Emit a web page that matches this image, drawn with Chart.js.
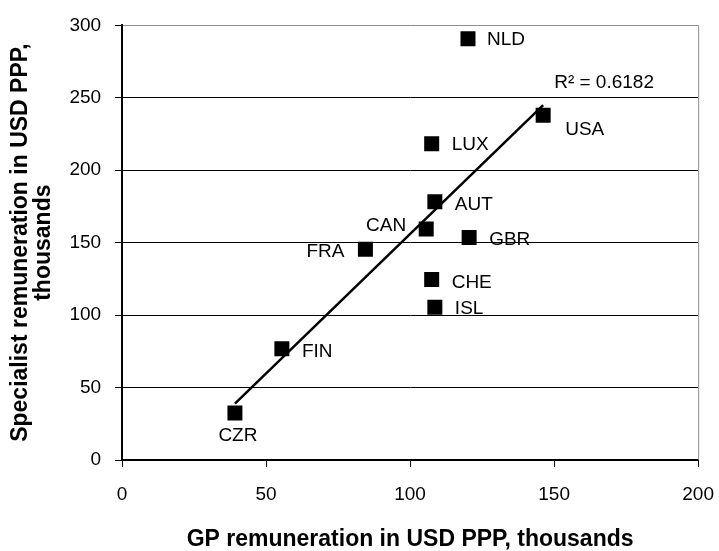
<!DOCTYPE html>
<html>
<head>
<meta charset="utf-8">
<script src="https://cdn.jsdelivr.net/npm/chart.js@4/dist/chart.umd.min.js"></script>
<style>
html, body { margin: 0; padding: 0; background: #fff; }
#wrap { width: 719px; height: 551px; }
</style>
</head>
<body>
<div id="wrap"><canvas id="myChart"></canvas></div>
<script>
// Values (USD PPP, thousands)
const countries = ['CZR', 'FIN', 'FRA', 'CAN', 'LUX', 'CHE', 'AUT', 'ISL', 'NLD', 'GBR', 'USA'];
const gpPay = [39.2, 55.5, 84.5, 105.6, 107.5, 107.5, 108.6, 108.6, 120.1, 120.5, 146.2];
const specialistPay = [32.5, 76.8, 145.5, 159.5, 218.3, 124.5, 178.3, 105.5, 290.7, 153.5, 238];
const xTicks = [0, 50, 100, 150, 200];
const yTicks = [0, 50, 100, 150, 200, 250, 300];
const rSquaredText = 'R\u00b2 = 0.6182';

// Where each country label sits relative to its marker (pixels)
const labelOffset = {
    CZR: [3, 23, 'center'],
    FIN: [20, 3, 'left'],
    FRA: [-21, 3, 'right'],
    CAN: [-20, -3, 'right'],
    LUX: [20, 1, 'left'],
    CHE: [20, 3, 'left'],
    AUT: [20, 3, 'left'],
    ISL: [20, 2, 'left'],
    NLD: [19, 1, 'left'],
    GBR: [20, 2, 'left'],
    USA: [22, 15, 'left']
};

// Linear trendline (least squares) over the plotted points
const n = gpPay.length;
const mx = gpPay.reduce((a, b) => a + b, 0) / n;
const my = specialistPay.reduce((a, b) => a + b, 0) / n;
let sxy = 0, sxx = 0;
for (let i = 0; i < n; i++) {
    sxy += (gpPay[i] - mx) * (specialistPay[i] - my);
    sxx += (gpPay[i] - mx) ** 2;
}
const slope = sxy / sxx;
const intercept = my - slope * mx;
const xMin = Math.min(...gpPay), xMax = Math.max(...gpPay);
const trend = [
    { x: xMin, y: intercept + slope * xMin },
    { x: xMax, y: intercept + slope * xMax }
];

const font = 'Arial, "Liberation Sans", sans-serif';
Chart.defaults.font.family = font;
Chart.defaults.color = '#000';

// Country labels, R² text and the grey right border of the plot
const annotations = {
    id: 'annotations',
    afterDatasetsDraw(chart) {
        const c = chart.ctx;
        const area = chart.chartArea;
        c.save();
        c.strokeStyle = '#8c8c8c';
        c.lineWidth = 1;
        c.beginPath();
        c.moveTo(area.right + 0.5, area.top);
        c.lineTo(area.right + 0.5, area.bottom);
        c.stroke();

        c.fillStyle = '#000';
        c.font = '19px ' + font;
        c.textBaseline = 'middle';
        const pts = chart.getDatasetMeta(0).data;
        pts.forEach((p, i) => {
            const o = labelOffset[countries[i]];
            c.textAlign = o[2];
            c.fillText(countries[i], p.x + o[0], p.y + o[1]);
        });

        const tl = chart.getDatasetMeta(1).data;
        const end = tl[tl.length - 1];
        c.textAlign = 'left';
        c.fillText(rSquaredText, end.x + 11, end.y - 22);
        c.restore();
    }
};

const ctx = document.getElementById('myChart');
new Chart(ctx, {
    type: 'scatter',
    data: {
        datasets: [{
            data: gpPay.map((x, i) => ({ x: x, y: specialistPay[i] })),
            pointStyle: 'rect',
            pointRadius: 10.6,
            pointHoverRadius: 10.6,
            backgroundColor: '#000',
            borderColor: '#000',
            borderWidth: 0,
            order: 2
        }, {
            type: 'line',
            data: trend,
            borderColor: '#000',
            borderWidth: 2.5,
            pointRadius: 0,
            fill: false,
            order: 1
        }]
    },
    options: {
        responsive: true,
        maintainAspectRatio: false,
        animation: false,
        layout: { padding: { left: 0, right: 11, top: 24, bottom: 0 } },
        plugins: {
            legend: { display: false },
            tooltip: { enabled: false }
        },
        scales: {
            x: {
                type: 'linear',
                min: 0,
                max: 200,
                afterBuildTicks: (s) => { s.ticks = xTicks.map(v => ({ value: v })); },
                // tall line box keeps labels low while keeping the side padding small
                ticks: { font: { size: 19, lineHeight: 2.368 }, color: '#000', padding: 5 },
                grid: { drawOnChartArea: false, color: '#000', tickLength: 7 },
                border: { color: '#000', width: 2 },
                title: {
                    display: true,
                    text: 'GP remuneration in USD PPP, thousands',
                    font: { size: 23, weight: 'bold', lineHeight: 1 },
                    color: '#000',
                    padding: { top: 6, bottom: 0 }
                }
            },
            y: {
                type: 'linear',
                min: 0,
                max: 300,
                afterBuildTicks: (s) => { s.ticks = yTicks.map(v => ({ value: v })); },
                ticks: { font: { size: 19 }, color: '#000', padding: 13.9 },
                grid: {
                    color: (c) => (c.tick && c.tick.value === 300 ? '#8c8c8c' : '#000'),
                    tickColor: '#000',
                    lineWidth: 1,
                    tickLength: 7
                },
                border: { color: '#000', width: 2 },
                title: {
                    display: true,
                    text: ['Specialist remuneration in USD PPP,', 'thousands'],
                    font: { size: 23, weight: 'bold', lineHeight: 1 },
                    color: '#000',
                    padding: { top: 9.5, bottom: 0 }
                }
            }
        }
    },
    plugins: [annotations]
});
</script>
</body>
</html>
